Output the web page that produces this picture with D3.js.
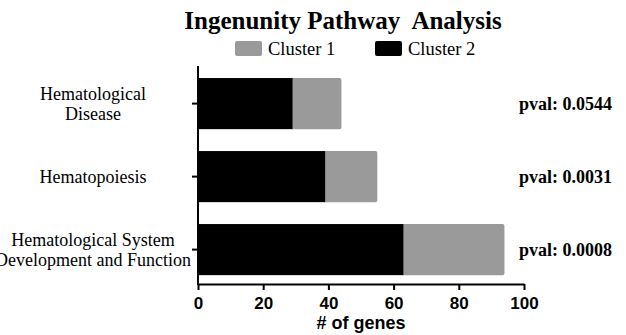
<!DOCTYPE html>
<html>
<head>
<meta charset="utf-8">
<script src="https://cdn.jsdelivr.net/npm/d3@7"></script>
<style>
  body { margin: 0; background: #fff; }
  text { fill: #000; }
</style>
</head>
<body>
<script>
var categories = [
    ["Hematological", "Disease"],
    ["Hematopoiesis"],
    ["Hematological System", "Development and Function"]
];
var cluster2 = [29, 39, 63];
var cluster1 = [15, 16, 31];
var pvals = ["pval: 0.0544", "pval: 0.0031", "pval: 0.0008"];
var xTicks = [0, 20, 40, 60, 80, 100];
var seriesNames = ["Cluster 1", "Cluster 2"];
var seriesColors = ["#9a9a9a", "#000000"];

var w = 626, h = 335;
var serif = "'Liberation Serif', 'Times New Roman', serif";
var sans = "'Liberation Sans', Arial, sans-serif";

var svg = d3.select("body")
    .append("svg")
    .attr("width", w)
    .attr("height", h);

var axisY = 284;
var x = d3.scaleLinear().domain([0, 100]).range([198, 524]);
var y = d3.scaleBand()
    .domain(d3.range(categories.length))
    .range([67.1, 286.1])
    .paddingInner(0.3)
    .paddingOuter(0.15);

// title
svg.append("text")
    .attr("x", 343).attr("y", 29)
    .attr("text-anchor", "middle")
    .style("font-family", serif)
    .style("font-weight", "bold")
    .style("font-size", "25px")
    .style("white-space", "pre")
    .text("Ingenunity Pathway  Analysis");

// legend
var legX = [235, 375];
seriesNames.forEach(function(name, i) {
    svg.append("rect")
        .attr("x", legX[i]).attr("y", 41)
        .attr("width", 27).attr("height", 15)
        .attr("rx", 2)
        .style("fill", seriesColors[i]);
    svg.append("text")
        .attr("x", legX[i] + 33).attr("y", 55)
        .style("font-family", serif)
        .style("font-size", "18.5px")
        .text(name);
});

// bars: cluster 2 from zero, cluster 1 stacked on it
var rows = categories.map(function(c, i) {
    return {i: i, c2: cluster2[i], c1: cluster1[i]};
});

svg.selectAll(".bar1")
    .data(rows)
    .enter()
    .append("rect")
    .attr("class", "bar1")
    .attr("x", function(d) { return x(d.c2) - 3; })
    .attr("y", function(d) { return y(d.i); })
    .attr("width", function(d) { return x(d.c2 + d.c1) - x(d.c2) + 3; })
    .attr("height", y.bandwidth())
    .attr("rx", 2)
    .style("fill", seriesColors[0]);

svg.selectAll(".bar2")
    .data(rows)
    .enter()
    .append("rect")
    .attr("class", "bar2")
    .attr("x", x(0))
    .attr("y", function(d) { return y(d.i); })
    .attr("width", function(d) { return x(d.c2) - x(0); })
    .attr("height", y.bandwidth())
    .style("fill", seriesColors[1]);

// x axis
var xAxis = svg.append("g")
    .attr("transform", "translate(0," + axisY + ")")
    .call(d3.axisBottom(x).tickValues(xTicks).tickSize(6).tickSizeOuter(0));
xAxis.select(".domain").attr("stroke-width", 2);
xAxis.selectAll(".tick line").attr("stroke-width", 2);
xAxis.selectAll(".tick text")
    .attr("dy", null)
    .attr("y", 25)
    .style("font-family", sans)
    .style("font-weight", "bold")
    .style("font-size", "17px");

svg.append("text")
    .attr("x", 361).attr("y", 329)
    .attr("text-anchor", "middle")
    .style("font-family", sans)
    .style("font-weight", "bold")
    .style("font-size", "18px")
    .text("# of genes");

// y axis
svg.append("line")
    .attr("x1", x(0)).attr("x2", x(0))
    .attr("y1", 66).attr("y2", axisY + 1)
    .attr("stroke", "#000").attr("stroke-width", 2);

svg.selectAll(".ytick")
    .data(rows)
    .enter()
    .append("line")
    .attr("class", "ytick")
    .attr("x1", x(0) - 6).attr("x2", x(0))
    .attr("y1", function(d) { return y(d.i) + y.bandwidth() / 2; })
    .attr("y2", function(d) { return y(d.i) + y.bandwidth() / 2; })
    .attr("stroke", "#000").attr("stroke-width", 2);

// category labels
var lab = svg.selectAll(".cat")
    .data(rows)
    .enter()
    .append("text")
    .attr("class", "cat")
    .attr("text-anchor", "middle")
    .style("font-family", serif)
    .style("font-size", "18px");

lab.each(function(d) {
    var lines = categories[d.i];
    var cy = y(d.i) + y.bandwidth() / 2;
    var lh = 20;
    var t = d3.select(this);
    lines.forEach(function(s, k) {
        t.append("tspan")
            .attr("x", 93)
            .attr("y", cy + 6 + (k - (lines.length - 1) / 2) * lh)
            .text(s);
    });
});

// p-values
svg.selectAll(".pval")
    .data(rows)
    .enter()
    .append("text")
    .attr("class", "pval")
    .attr("x", 612)
    .attr("y", function(d) { return y(d.i) + y.bandwidth() / 2 + 6; })
    .attr("text-anchor", "end")
    .style("font-family", serif)
    .style("font-weight", "bold")
    .style("font-size", "18px")
    .text(function(d) { return pvals[d.i]; });
</script>
</body>
</html>
